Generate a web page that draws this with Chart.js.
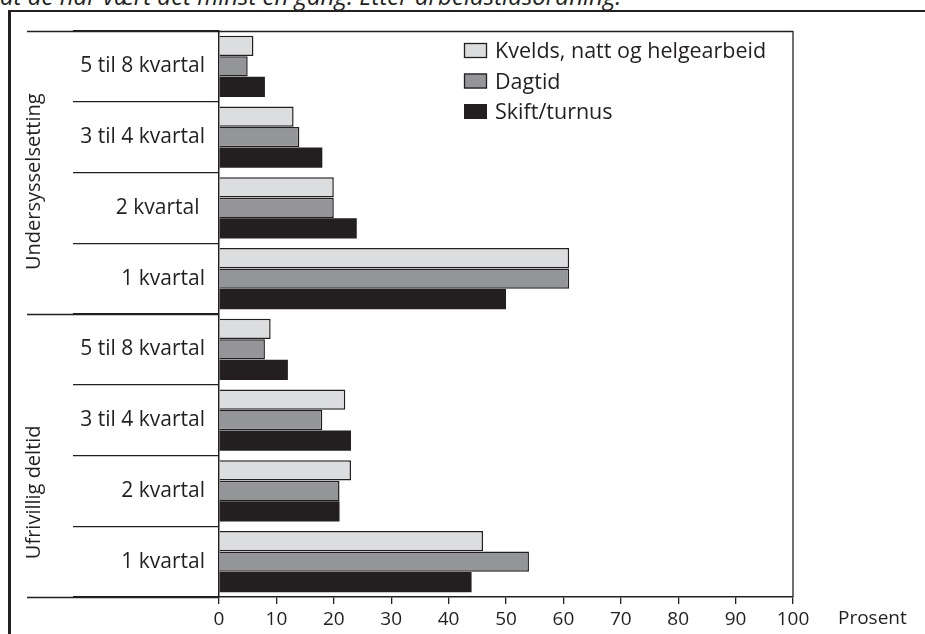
<!DOCTYPE html>
<html>
<head>
<meta charset="utf-8">
<script src="https://cdn.jsdelivr.net/npm/chart.js@4.4.1/dist/chart.umd.min.js"></script>
<style>
	html, body { margin: 0; padding: 0; background: #fff; }
	#wrap { position: relative; width: 925px; height: 634px; overflow: hidden; }
	#caption { position: absolute; left: 0; top: -18px; font: italic 24px 'Open Sans', sans-serif; line-height: 27px; color: #231f20; white-space: nowrap; }
	#frame { position: absolute; left: 8px; top: 10px; width: 940px; height: 660px; border-top: 2px solid #231f20; border-left: 3px solid #231f20; }
	#chart { position: absolute; left: 0; top: 0; }
</style>
</head>
<body>
<div id="wrap">
	<div id="caption">at de har vært det minst en gang. Etter arbeidstidsordning.</div>
	<div id="frame"></div>
	<canvas id="chart" width="925" height="634"></canvas>
</div>
<script>
// Categories, top to bottom
var categories = ['5 til 8 kvartal', '3 til 4 kvartal', '2 kvartal ', '1 kvartal',
	'5 til 8 kvartal', '3 til 4 kvartal', '2 kvartal', '1 kvartal'];
var groups = ['Undersysselsetting', 'Ufrivillig deltid'];
var seriesNames = ['Kvelds, natt og helgearbeid', 'Dagtid', 'Skift/turnus'];
// Values (prosent)
var kveldValues = [6, 13, 20, 61, 9, 22, 23, 46];
var dagtidValues = [5, 14, 20, 61, 8, 18, 21, 54];
var skiftValues = [8, 18, 24, 50, 12, 23, 21, 44];
var xTickValues = [0, 10, 20, 30, 40, 50, 60, 70, 80, 90, 100];
var axisUnit = 'Prosent';

var INK = '#231f20';
var FONT = "'Open Sans', sans-serif";
var fillColors = ['#dcddde', '#939598', '#231f20'];
var borderWidths = [1.5, 1.5, 0];

function $each(arr, fn) {
	for (var i = 0; i < arr.length; i++) { fn(i, arr[i]); }
}

// Separator lines, group labels, unit label and legend
var decorPlugin = {
	id: 'decor',
	afterDraw: function(chart) {
		var ctx = chart.ctx, area = chart.chartArea, y = chart.scales.y;
		var n = categories.length, half = n / 2;
		ctx.save();
		ctx.strokeStyle = INK;
		ctx.lineWidth = 1.3;
		// long lines at group boundaries
		[-0.5, half - 0.5, n - 0.5].forEach(function(v) {
			var py = Math.round(y.getPixelForValue(v)) + 0.5;
			ctx.beginPath();
			ctx.moveTo(27, py);
			ctx.lineTo(v === -0.5 ? area.right : area.left, py);
			ctx.stroke();
		});
		// right border of plot
		ctx.beginPath();
		ctx.moveTo(area.right, area.top);
		ctx.lineTo(area.right, area.bottom);
		ctx.stroke();

		// group labels (rotated)
		ctx.fillStyle = INK;
		ctx.font = '20px ' + FONT;
		ctx.textAlign = 'center';
		ctx.textBaseline = 'middle';
		var groupPos = [1.63, 6.02];
		$each(groups, function(i, g) {
			ctx.save();
			ctx.translate(34, y.getPixelForValue(groupPos[i]));
			ctx.rotate(-Math.PI / 2);
			ctx.fillText(g, 0, 0);
			ctx.restore();
		});

		// unit label right of last tick
		ctx.font = '19px ' + FONT;
		ctx.textAlign = 'left';
		ctx.fillText(axisUnit, area.right + 45, area.bottom + 22);

		// legend
		ctx.font = '21.5px ' + FONT;
		var lx = area.left + 245;
		$each(chart.data.datasets, function(i, ds) {
			var cy = area.top + 19 + i * 30.5;
			ctx.fillStyle = ds.backgroundColor;
			ctx.fillRect(lx, cy - 7, 23, 15);
			if (ds.borderWidth > 0) {
				ctx.lineWidth = 1.3;
				ctx.strokeRect(lx + 0.5, cy - 6.5, 22, 14);
			}
			ctx.fillStyle = INK;
			ctx.fillText(ds.label, lx + 31, cy + 2);
		});
		ctx.restore();
	}
};

var seriesValues = [kveldValues, dagtidValues, skiftValues];
var datasets = [];
$each(seriesNames, function(i, name) {
	datasets.push({
		label: name,
		data: seriesValues[i],
		backgroundColor: fillColors[i],
		borderColor: INK,
		borderWidth: borderWidths[i],
		categoryPercentage: 0.87,
		barPercentage: 0.98
	});
});

new Chart(document.getElementById('chart'), {
	type: 'bar',
	data: { labels: categories, datasets: datasets },
	options: {
		indexAxis: 'y',
		responsive: false,
		animation: false,
		devicePixelRatio: 1,
		layout: { padding: { top: 31, right: 132, left: 0, bottom: 0 } },
		plugins: { legend: { display: false }, tooltip: { enabled: false } },
		scales: {
			x: {
				min: 0, max: 100,
				afterBuildTicks: function(scale) {
					scale.ticks = xTickValues.map(function(v) { return { value: v }; });
				},
				afterFit: function(scale) { scale.height = 37; },
				grid: { drawOnChartArea: false, tickLength: 7, color: INK, lineWidth: 1.3 },
				border: { color: INK, width: 1.5 },
				ticks: { padding: 4, color: INK, font: { family: FONT, size: 19 }, maxRotation: 0 }
			},
			y: {
				afterFit: function(scale) { scale.width = 219; },
				grid: { offset: true, drawOnChartArea: false, tickLength: 146, color: INK, lineWidth: 1.3 },
				border: { color: INK, width: 1.5 },
				ticks: { padding: -132, color: INK, font: { family: FONT, size: 21 } }
			}
		}
	},
	plugins: [decorPlugin]
});
</script>
</body>
</html>
